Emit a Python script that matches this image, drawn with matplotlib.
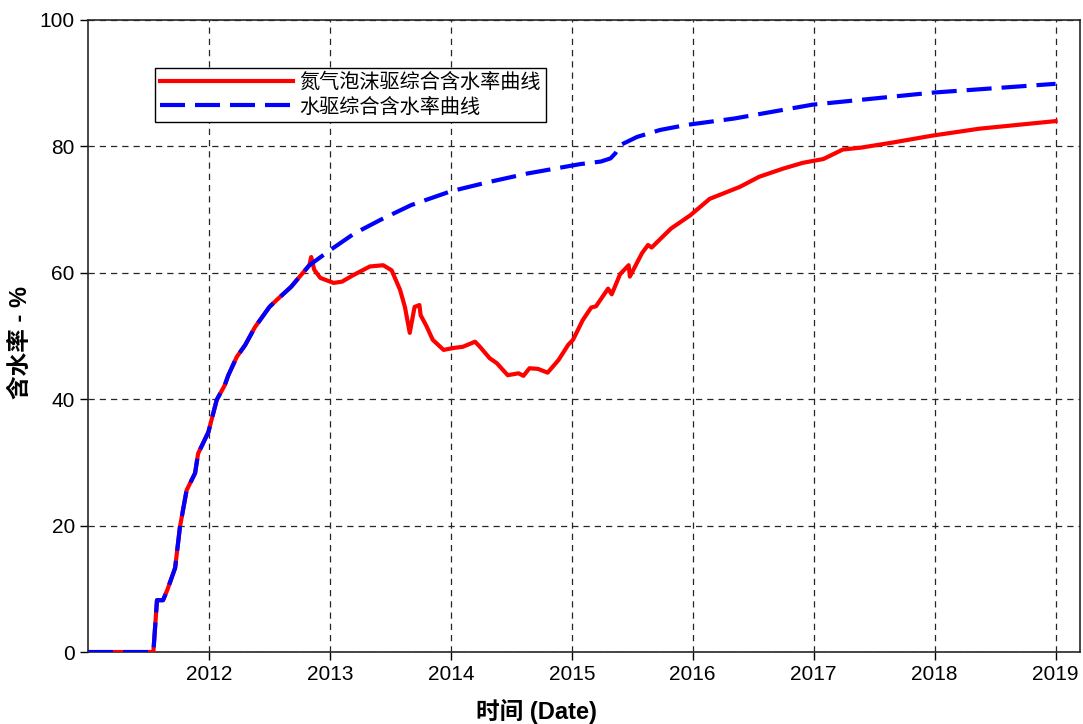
import numpy as np
import matplotlib
matplotlib.use("Agg")
import matplotlib.pyplot as plt

plt.rcParams['font.family'] = ['Liberation Sans', 'Noto Sans CJK SC', 'DejaVu Sans']
plt.rcParams['axes.unicode_minus'] = False

# shared part of both curves (both lie on top of each other until late 2012)
common_years = [2011.0, 2011.54, 2011.57, 2011.62, 2011.655, 2011.72, 2011.76, 2011.815,
                2011.885, 2011.91, 2011.995, 2012.064, 2012.13, 2012.16, 2012.23, 2012.30,
                2012.38, 2012.50, 2012.56, 2012.68, 2012.75, 2012.83]
common_wc = [0, 0, 8.2, 8.2, 9.8, 13.3, 19.8, 25.6,
             28.3, 31.4, 34.8, 39.9, 42.2, 43.8, 46.7, 48.6,
             51.4, 54.6, 55.7, 57.8, 59.4, 61.2]

# nitrogen foam flooding after the split
foam_years = [2012.845, 2012.87, 2012.92, 2013.03, 2013.10, 2013.19, 2013.33, 2013.44,
              2013.51, 2013.58, 2013.62, 2013.66, 2013.70, 2013.74, 2013.75, 2013.80,
              2013.85, 2013.94, 2014.02, 2014.10, 2014.20, 2014.24, 2014.32, 2014.38,
              2014.47, 2014.56, 2014.60, 2014.65, 2014.72, 2014.80, 2014.89, 2014.97,
              2015.01, 2015.09, 2015.16, 2015.20, 2015.30, 2015.33, 2015.40, 2015.47,
              2015.48, 2015.58, 2015.63, 2015.66, 2015.82, 2015.98, 2016.14, 2016.39,
              2016.55, 2016.75, 2016.91, 2017.08, 2017.24, 2017.39, 2017.65, 2017.98,
              2018.37, 2019.0]
foam_wc = [62.5, 60.5, 59.2, 58.4, 58.6, 59.6, 61.0, 61.2,
           60.4, 57.3, 54.6, 50.5, 54.6, 54.9, 53.3, 51.5,
           49.4, 47.8, 48.1, 48.3, 49.1, 48.3, 46.5, 45.7,
           43.8, 44.1, 43.7, 44.9, 44.8, 44.2, 46.2, 48.6,
           49.4, 52.5, 54.5, 54.7, 57.5, 56.6, 59.8, 61.2,
           59.4, 63.1, 64.4, 64.0, 67.0, 69.1, 71.7, 73.6,
           75.2, 76.5, 77.4, 78.0, 79.5, 79.8, 80.6, 81.7,
           82.8, 84.0]

# water flooding after the split
water_years = [2013.01, 2013.20, 2013.42, 2013.67, 2014.00, 2014.30, 2014.63, 2015.07,
               2015.24, 2015.32, 2015.36, 2015.40, 2015.54, 2015.73, 2015.95, 2016.34,
               2016.99, 2017.98, 2019.0]
water_wc = [63.7, 66.2, 68.4, 70.7, 72.9, 74.3, 75.7, 77.2,
            77.6, 78.1, 78.9, 80.2, 81.5, 82.6, 83.4, 84.4,
            86.6, 88.5, 89.9]

foam_x = np.array(common_years + foam_years)
foam_y = np.array(common_wc + foam_wc)
water_x = np.array(common_years + water_years)
water_y = np.array(common_wc + water_wc)

fig = plt.figure(figsize=(10.83, 7.24), dpi=100)
ax = fig.add_axes([0.0813, 0.0994, 0.9157, 0.873])

ax.plot(foam_x, foam_y, color='#ff0000', lw=3.0, label='氮气泡沫驱综合含水率曲线', zorder=3)
ax.plot(water_x, water_y, color='#0000ff', lw=3.0, dashes=(6, 2.4), dash_capstyle='butt',
        label='水驱综合含水率曲线', zorder=4)

ax.set_xlim(2011.0, 2019.2)
ax.set_ylim(0, 100)
ax.set_xticks(range(2012, 2020))
ax.set_yticks(range(0, 101, 20))
ax.grid(True, color='0.15', linestyle=(0, (5, 4)), lw=0.9)
ax.tick_params(direction='out', length=6, width=1, labelsize=15, colors='black')
for s in ax.spines.values():
    s.set_color('0.15')
    s.set_linewidth(1.2)

# the x label sits centred on the figure, not on the axes
ax.set_xlabel('时间 (Date)', fontsize=17, fontweight='bold')
ax.xaxis.set_label_coords(0.4526, -0.074)
ax.set_ylabel('含水率 - %', fontsize=17, fontweight='bold')
ax.yaxis.set_label_coords(-0.057, 0.49)

leg = ax.legend(loc='upper left', bbox_to_anchor=(0.0675, 0.924), borderaxespad=0,
                fontsize=14.5, handlelength=6.6, handletextpad=0.3, labelspacing=0.25,
                borderpad=0.25, fancybox=False, framealpha=1, edgecolor='black')
leg.get_frame().set_linewidth(1.0)

fig.savefig('out.png', dpi=100)
